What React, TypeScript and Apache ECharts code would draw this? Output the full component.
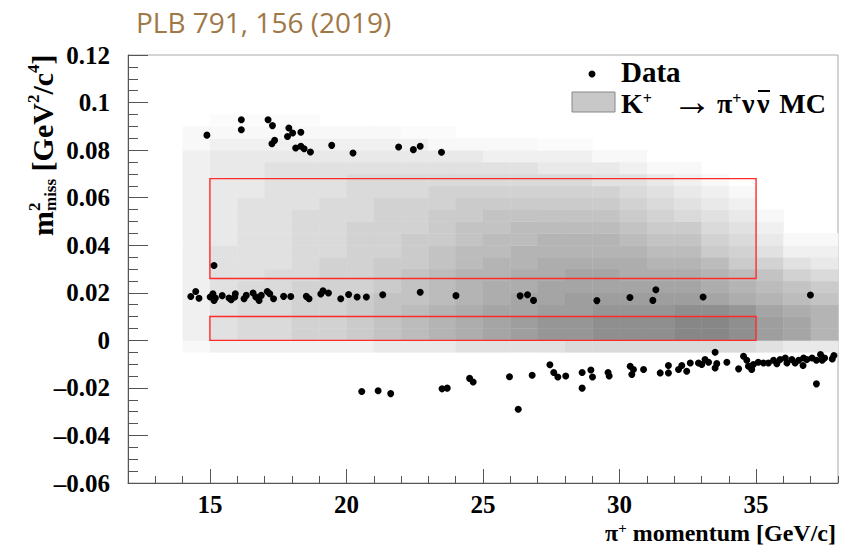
import React, { useEffect, useRef } from "react";
import * as echarts from "echarts";

// ---------------- data ----------------
const X_RANGE = [12, 38];
const Y_RANGE = [-0.06, 0.12];

// Data points (pi+ momentum [GeV/c], m2miss [GeV2/c4])
const DATA_UPPER: [number, number][] = [
  [14.89, 0.0863], [16.15, 0.0928], [16.15, 0.0886], [17.13, 0.0928], [17.29, 0.0903],
  [17.37, 0.0841], [17.27, 0.0827], [17.89, 0.0893], [18.03, 0.0872], [18.33, 0.0875],
  [17.84, 0.0857], [18.14, 0.0809], [18.33, 0.0816], [18.45, 0.0806], [18.68, 0.0792],
  [19.46, 0.082], [20.24, 0.0788], [21.91, 0.0813], [22.45, 0.0802], [22.7, 0.0816],
  [23.48, 0.0791], [15.15, 0.0315],
];

const DATA_BAND: [number, number][] = [
  [14.3, 0.0184], [14.48, 0.0205], [14.6, 0.0177], [15.01, 0.0182], [15.11, 0.0196],
  [15.15, 0.0168], [15.2, 0.0178], [15.45, 0.0188], [15.7, 0.0178], [15.78, 0.0171],
  [15.93, 0.0196], [15.91, 0.0182], [16.25, 0.0175], [16.33, 0.0189], [16.58, 0.0199],
  [16.68, 0.0182], [16.8, 0.0168], [16.88, 0.0189], [17.1, 0.0205], [17.19, 0.0196],
  [17.33, 0.0175], [17.7, 0.0185], [17.96, 0.0184], [18.53, 0.0185], [18.63, 0.0175],
  [19.06, 0.0195], [19.14, 0.0208], [19.34, 0.0199], [19.79, 0.0175], [20.08, 0.0193],
  [20.39, 0.0182], [20.73, 0.0182], [21.33, 0.0192], [22.7, 0.0202], [24.01, 0.0188],
  [26.36, 0.0187], [26.63, 0.0192], [26.85, 0.0168], [29.17, 0.0167], [30.38, 0.018],
  [31.33, 0.0213], [31.22, 0.0168], [33.06, 0.0182], [36.99, 0.0191],
];

const DATA_LOWER: [number, number][] = [
  [20.56, -0.0215], [21.16, -0.0212], [21.62, -0.0224], [23.5, -0.0204], [23.69, -0.0201],
  [24.51, -0.016], [24.64, -0.0175], [25.97, -0.0153], [26.29, -0.029], [26.8, -0.0147],
  [27.45, -0.0103], [27.59, -0.0135], [27.74, -0.0154], [28.03, -0.015], [28.63, -0.0135],
  [28.63, -0.0201], [28.95, -0.0125], [29.01, -0.0154], [29.58, -0.0135], [29.62, -0.015],
  [30.39, -0.0109], [30.51, -0.0123], [30.45, -0.0144], [30.88, -0.0123], [31.49, -0.0137],
  [31.79, -0.0137], [31.79, -0.0106], [32.16, -0.0123], [32.28, -0.0106], [32.46, -0.013],
  [32.59, -0.0095], [32.89, -0.0095], [33.01, -0.0102], [33.13, -0.0081], [33.26, -0.0092],
  [33.5, -0.005], [33.56, -0.0098], [33.5, -0.0116], [33.93, -0.0092], [34.36, -0.012],
  [34.54, -0.0067], [34.66, -0.0084], [34.72, -0.0109], [34.84, -0.0123], [34.9, -0.0102],
  [35.08, -0.0092], [35.27, -0.0095], [35.45, -0.0095], [35.64, -0.0084], [35.76, -0.0098],
  [35.88, -0.0081], [36.07, -0.0074], [36.13, -0.0095], [36.31, -0.0081], [36.43, -0.0095],
  [36.56, -0.0084], [36.72, -0.0106], [36.74, -0.0074], [36.86, -0.0081], [37.05, -0.0074],
  [37.21, -0.0084], [37.36, -0.006], [37.42, -0.0084], [37.51, -0.0074], [37.79, -0.0078],
  [37.85, -0.0064], [37.21, -0.0183],
];

// Signal regions: [xMin, yMin, xMax, yMax]
const SIGNAL_REGIONS: [number, number, number, number][] = [
  [15, 0, 35, 0.01],
  [15, 0.026, 35, 0.068],
];

// MC density (0..8 grey level), 1 GeV columns starting at MC_X_LOW, 0.005 rows starting at MC_Y_LOW
const MC_BIN_X = 1;
const MC_BIN_Y = 0.005;
const MC_X_LOW = [14, 15, 16, 17, 18, 19, 20, 21, 22, 23, 24, 25, 26, 27, 28, 29, 30, 31, 32, 33, 34, 35, 36, 37];
const MC_Y_LOW = [-0.005, 0, 0.005, 0.01, 0.015, 0.02, 0.025, 0.03, 0.035, 0.04, 0.045, 0.05, 0.055, 0.06, 0.065, 0.07, 0.075, 0.08, 0.085, 0.09];
const MC_COLUMNS: number[][] = [
  [0.5, 1, 1, 1, 1, 1, 1, 1, 1, 1, 1, 1, 1, 1, 1, 1, 1, 0.5, 0.5, 0],
  [1, 2, 2, 2, 2, 2, 2, 2, 2, 1.5, 1.5, 1.5, 1.5, 1.5, 1.5, 1.5, 1.5, 1, 0.5, 0.3],
  [1, 2.5, 2.5, 2.5, 2.5, 2.5, 2, 2, 2, 2, 2, 2, 2, 1.5, 1.5, 1.5, 1.5, 1, 0.5, 0.3],
  [1, 2.5, 2.5, 2.5, 2.5, 2.5, 2.5, 2, 2, 2, 2, 2, 2, 2, 2, 2, 1.5, 1, 0.5, 0.3],
  [1, 3, 3, 3, 3, 3, 2.5, 2.5, 2.5, 2.5, 2.5, 2.5, 2, 2, 2, 2, 1.5, 1, 0.5, 0.3],
  [1, 3, 3, 3, 3, 3, 3, 3, 2.5, 2.5, 2.5, 2.5, 2.5, 2, 2, 2, 1.5, 1, 0.5, 0],
  [1, 3.5, 3.5, 3.5, 3.5, 3, 3, 3, 3, 3, 3, 2.5, 2.5, 2.5, 2.5, 2, 1.5, 1, 0.5, 0],
  [1.5, 4, 4, 4, 4, 3.5, 3.5, 3.5, 3, 3, 3, 3, 3, 2.5, 2.5, 2, 1.5, 1, 0.5, 0],
  [1.5, 4.5, 4.5, 4.5, 4, 4, 4, 3.5, 3.5, 3.5, 3, 3, 3, 2.5, 2.5, 2, 1.5, 1, 0.3, 0],
  [1.5, 5, 5, 5, 4.5, 4.5, 4.5, 4, 4, 3.5, 3.5, 3.5, 3, 3, 2.5, 2, 1.5, 0.5, 0.3, 0],
  [2, 5.5, 5.5, 5.5, 5, 5, 5, 4.5, 4.5, 4, 4, 3.5, 3.5, 3, 2.5, 2, 1.5, 0.5, 0, 0],
  [2, 6, 6, 6, 5.5, 5.5, 5, 5, 4.5, 4.5, 4, 4, 3.5, 3, 2.5, 2, 1, 0.5, 0, 0],
  [2, 6.5, 6.5, 6, 6, 5.5, 5.5, 5, 5, 4.5, 4.5, 4, 3.5, 3, 2.5, 2, 1, 0.5, 0, 0],
  [2, 7, 7, 6.5, 6, 6, 5.5, 5.5, 5, 5, 4.5, 4, 3.5, 3, 2.5, 1.5, 1, 0.3, 0, 0],
  [2.5, 7, 7, 6.5, 6.5, 6, 6, 5.5, 5, 5, 4.5, 4, 3.5, 3, 2.5, 1.5, 1, 0.3, 0, 0],
  [2.5, 7.5, 7.5, 7, 6.5, 6, 6, 5.5, 5, 5, 4.5, 4, 3.5, 3, 2, 1.5, 0.5, 0, 0, 0],
  [2.5, 7.5, 7.5, 7, 6.5, 6, 5.5, 5.5, 5, 4.5, 4, 3.5, 3, 2.5, 2, 1, 0.5, 0, 0, 0],
  [2.5, 7.5, 7.5, 7, 6.5, 6, 5.5, 5, 4.5, 4, 3.5, 3, 2.5, 2, 1.5, 0.5, 0, 0, 0, 0],
  [2.5, 8, 8, 7.5, 6.5, 6, 5.5, 5, 4.5, 4, 3.5, 2.5, 2, 1.5, 1, 0.5, 0, 0, 0, 0],
  [2.5, 8, 8, 7.5, 6, 5.5, 5, 4.5, 3.5, 3, 2.5, 2, 1.5, 1, 0.5, 0, 0, 0, 0, 0],
  [2.5, 7.5, 7.5, 7, 5.5, 5, 4.5, 3.5, 3, 2.5, 2, 1.5, 1, 0.5, 0, 0, 0, 0, 0, 0],
  [2, 6.5, 6.5, 6, 5, 4.5, 4, 3, 2, 1.5, 1, 0.5, 0, 0, 0, 0, 0, 0, 0, 0],
  [1.5, 6, 6, 5.5, 4.5, 4, 3, 2, 1, 0.5, 0, 0, 0, 0, 0, 0, 0, 0, 0, 0],
  [1.5, 5, 5, 5, 4, 3.5, 2.5, 1.5, 1, 0.5, 0, 0, 0, 0, 0, 0, 0, 0, 0, 0],
];

// ---------------- styling ----------------
const SERIF = "'Liberation Serif', 'Times New Roman', 'DejaVu Serif', serif";
const AXIS_COLOR = "#555";

function grey(d: number): string {
  const g = Math.round(255 - d * 15);
  return `rgb(${g},${g},${g})`;
}

export default function App() {
  const ref = useRef<HTMLDivElement>(null);

  useEffect(() => {
    if (!ref.current) return;
    const chart = echarts.init(ref.current, undefined, { renderer: "svg" });

    const mcCells: number[][] = [];
    MC_X_LOW.forEach((x, i) => {
      MC_Y_LOW.forEach((y, j) => {
        const d = MC_COLUMNS[i][j];
        if (d > 0) mcCells.push([x, y, d]);
      });
    });

    const allData = [...DATA_UPPER, ...DATA_BAND, ...DATA_LOWER];

    const bold = (size: number, extra: any = {}) => ({
      fontFamily: SERIF,
      fontWeight: "bold",
      fontSize: size,
      fill: "#000",
      ...extra,
    });

    const supRich = { fontFamily: SERIF, fontWeight: "bold", fontSize: 17, lineHeight: 17, verticalAlign: "top", fill: "#000" };
    const legendRich = {
      b: { fontFamily: SERIF, fontWeight: "bold", fontSize: 28, lineHeight: 26, fill: "#000" },
      sup: { fontFamily: SERIF, fontWeight: "bold", fontSize: 16, lineHeight: 14, verticalAlign: "top", fill: "#000" },
    };

    const option: any = {
      animation: false,
      backgroundColor: "#fff",
      grid: {
        left: 128,
        right: 3,
        top: 55,
        bottom: 68,
        show: true,
        borderColor: "#aaa",
        borderWidth: 1,
        backgroundColor: "transparent",
      },
      xAxis: [
        {
          type: "value",
          position: "bottom",
          min: X_RANGE[0],
          max: X_RANGE[1],
          splitNumber: 5,
          axisLine: { show: true, onZero: false, lineStyle: { color: AXIS_COLOR, width: 1 } },
          axisTick: { show: true, inside: true, length: 14, lineStyle: { color: AXIS_COLOR } },
          minorTick: { show: false },
          splitLine: { show: false },
          axisLabel: {
            showMinLabel: false,
            showMaxLabel: false,
            fontFamily: SERIF,
            fontWeight: "bold",
            fontSize: 25,
            color: "#000",
            margin: 9,
          },
        },
        {
          type: "value",
          position: "bottom",
          min: X_RANGE[0],
          max: X_RANGE[1],
          interval: 1,
          axisLine: { show: false, onZero: false },
          axisTick: { show: true, inside: true, length: 7, lineStyle: { color: AXIS_COLOR } },
          axisLabel: { show: false },
          splitLine: { show: false },
        },
      ],
      yAxis: {
        type: "value",
        min: Y_RANGE[0],
        max: Y_RANGE[1],
        interval: 0.02,
        axisLine: { show: true, onZero: false, lineStyle: { color: AXIS_COLOR, width: 1 } },
        axisTick: { show: true, inside: true, length: 20, lineStyle: { color: AXIS_COLOR } },
        minorTick: { show: true, splitNumber: 4, length: 10, lineStyle: { color: AXIS_COLOR } },
        splitLine: { show: false },
        axisLabel: {
          fontFamily: SERIF,
          fontWeight: "bold",
          fontSize: 25,
          color: "#000",
          margin: 18,
          formatter: (v: number) => {
            const r = Math.round(v * 1000) / 1000;
            if (r === 0) return "0";
            return (r < 0 ? "\u2013" : "") + String(Math.abs(r));
          },
        },
      },
      series: [
        {
          type: "custom",
          name: "MC",
          xAxisIndex: 0,
          yAxisIndex: 0,
          data: mcCells,
          encode: { x: 0, y: 1 },
          z: 1,
          silent: true,
          renderItem: (params: any, api: any) => {
            const x = api.value(0);
            const y = api.value(1);
            const d = api.value(2);
            const p0 = api.coord([x, y + MC_BIN_Y]);
            const p1 = api.coord([x + MC_BIN_X, y]);
            return {
              type: "rect",
              shape: { x: p0[0], y: p0[1], width: p1[0] - p0[0] + 0.4, height: p1[1] - p0[1] + 0.4 },
              style: { fill: grey(d) },
            };
          },
        },
        {
          type: "custom",
          name: "regions",
          xAxisIndex: 0,
          yAxisIndex: 0,
          data: SIGNAL_REGIONS,
          encode: { x: [0, 2], y: [1, 3] },
          z: 2,
          silent: true,
          renderItem: (params: any, api: any) => {
            const p0 = api.coord([api.value(0), api.value(3)]);
            const p1 = api.coord([api.value(2), api.value(1)]);
            return {
              type: "rect",
              shape: { x: p0[0], y: p0[1], width: p1[0] - p0[0], height: p1[1] - p0[1] },
              style: { fill: "none", stroke: "#ff2a2a", lineWidth: 1.4 },
            };
          },
        },
        {
          type: "scatter",
          name: "Data",
          xAxisIndex: 0,
          yAxisIndex: 0,
          data: allData,
          symbol: "circle",
          symbolSize: 7,
          itemStyle: { color: "#000", opacity: 1 },
          z: 5,
          silent: true,
        },
      ],
      graphic: [
        {
          type: "text",
          x: 136,
          y: 22,
          style: {
            text: "PLB 791, 156 (2019)",
            fontFamily: "'Open Sans', 'Noto Sans', sans-serif",
            fontSize: 28,
            fill: "#a07848",
            align: "left",
            verticalAlign: "middle",
          },
        },
        // legend
        {
          type: "circle",
          shape: { cx: 592, cy: 74, r: 3.5 },
          style: { fill: "#000" },
        },
        {
          type: "text",
          x: 621,
          y: 72,
          style: bold(29, { text: "Data", verticalAlign: "middle", align: "left", lineHeight: 26 }),
        },
        {
          type: "rect",
          shape: { x: 572, y: 92, width: 43, height: 20 },
          style: { fill: "#c8c8c8", stroke: "#888", lineWidth: 1 },
        },
        {
          type: "text",
          x: 621,
          y: 103,
          style: { text: "{b|K}{sup|+}", verticalAlign: "middle", align: "left", rich: legendRich },
        },
        {
          type: "text",
          x: 692,
          y: 101,
          style: { text: "\u2192", fontFamily: SERIF, fontSize: 40, lineHeight: 26, fill: "#000", align: "center", verticalAlign: "middle" },
        },
        {
          type: "text",
          x: 717,
          y: 103,
          style: { text: "{b|\u03c0}{sup|+}", verticalAlign: "middle", align: "left", rich: legendRich },
        },
        {
          type: "text",
          x: 742,
          y: 103,
          style: bold(28, { text: "\u03bd", verticalAlign: "middle", align: "left", lineHeight: 26 }),
        },
        {
          type: "text",
          x: 757,
          y: 103,
          style: bold(28, { text: "\u03bd", verticalAlign: "middle", align: "left", lineHeight: 26 }),
        },
        {
          type: "line",
          shape: { x1: 758, y1: 91, x2: 770, y2: 91 },
          style: { stroke: "#000", lineWidth: 2 },
        },
        {
          type: "text",
          x: 826,
          y: 103,
          style: bold(28, { text: "MC", verticalAlign: "middle", align: "right", lineHeight: 26 }),
        },
        // x axis title
        {
          type: "text",
          x: 836,
          y: 533,
          style: {
            text: "{b|\u03c0}{sup|+}{b| momentum [GeV/c]}",
            align: "right",
            verticalAlign: "middle",
            rich: {
              b: { fontFamily: SERIF, fontWeight: "bold", fontSize: 24, lineHeight: 26, fill: "#000" },
              sup: { fontFamily: SERIF, fontWeight: "bold", fontSize: 15, lineHeight: 15, verticalAlign: "top", fill: "#000" },
            },
          },
        },
        // y axis title
        {
          type: "group",
          x: 42,
          y: 236,
          rotation: Math.PI / 2,
          children: [
            {
              type: "text",
              x: 0,
              y: 0,
              style: {
                text: "{b|m}{sub|miss}{b| [GeV}{sup|2}{b|/c}{sup|4}{b|]}",
                align: "left",
                verticalAlign: "middle",
                rich: {
                  b: { fontFamily: SERIF, fontWeight: "bold", fontSize: 30, lineHeight: 34, fill: "#000" },
                  sup: supRich,
                  sub: { fontFamily: SERIF, fontWeight: "bold", fontSize: 17, lineHeight: 17, verticalAlign: "bottom", fill: "#000" },
                },
              },
            },
            {
              type: "text",
              x: 25,
              y: -8,
              style: bold(17, { text: "2", align: "left", verticalAlign: "middle" }),
            },
          ],
        },
      ],
    };

    chart.setOption(option);
    return () => chart.dispose();
  }, []);

  return (
    <div
      ref={ref}
      style={{ position: "absolute", left: 0, top: 0, width: 841, height: 551 }}
    />
  );
}
